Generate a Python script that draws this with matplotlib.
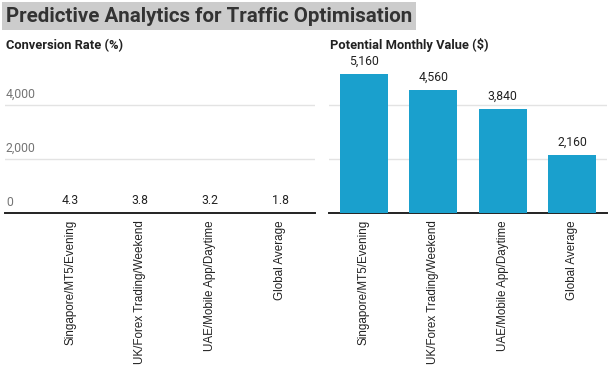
import matplotlib
matplotlib.use("Agg")
import matplotlib.pyplot as plt
from matplotlib.transforms import blended_transform_factory, ScaledTranslation

categories = ["Singapore/MT5/Evening", "UK/Forex Trading/Weekend", "UAE/Mobile App/Daytime", "Global Average"]
conversion_rate = [4.3, 3.8, 3.2, 1.8]
monthly_value = [5160, 4560, 3840, 2160]
conversion_labels = ["4.3", "3.8", "3.2", "1.8"]
value_labels = ["5,160", "4,560", "3,840", "2,160"]
y_ticks = [0, 2000, 4000]
y_tick_labels = ["0", "2,000", "4,000"]

title = "Predictive Analytics for Traffic Optimisation"
left_title = "Conversion Rate (%)"
right_title = "Potential Monthly Value ($)"

BAR = "#1aa0cd"
W, H = 613, 367
fig = plt.figure(figsize=(W / 100, H / 100), dpi=100)

def px_axes(x0, x1, y0, y1):
    return fig.add_axes([x0 / W, 1 - y1 / H, (x1 - x0) / W, (y1 - y0) / H])

ax1 = px_axes(5, 315, 55, 213)
ax2 = px_axes(329, 607, 55, 213)

YMAX = 5850
for ax, vals, labs in ((ax1, conversion_rate, conversion_labels), (ax2, monthly_value, value_labels)):
    x = list(range(len(categories)))
    ax.bar(x, vals, width=0.69, color=BAR, zorder=3)
    ax.set_ylim(0, YMAX)
    for xi, v, lab in zip(x, vals, labs):
        ax.annotate(lab, (xi, v), xytext=(0, 4.5), textcoords="offset points",
                    ha="center", va="bottom", fontsize=8.8, family="Roboto", color="#222222")
    ax.set_yticks([t for t in y_ticks if t > 0])
    ax.yaxis.grid(True, color="#e3e3e3", linewidth=1.0, zorder=0)
    ax.tick_params(axis="y", length=0, labelleft=False)
    ax.set_xticks(x)
    ax.set_xticklabels(categories, rotation=90, fontsize=8.4, family="Liberation Sans", color="#222222")
    ax.tick_params(axis="x", length=0, pad=5)
    for s in ("top", "right", "left"):
        ax.spines[s].set_visible(False)
    ax.spines["bottom"].set_color("#222222")
    ax.spines["bottom"].set_linewidth(1.4)
    ax.set_facecolor("none")

ax1.set_xlim(-0.93, 3.5)
ax2.set_xlim(-0.5, 3.5)

trans = blended_transform_factory(ax1.transAxes, ax1.transData)
for t, lab in zip(y_ticks, y_tick_labels):
    ax1.text(0.003, t, lab, transform=trans + ScaledTranslation(0, 4 / 100, fig.dpi_scale_trans),
             ha="left", va="bottom", fontsize=8.8, family="Roboto", color="#757575")

fig.text(6 / W, 1 - 21.5 / H, title, fontsize=14.8, fontweight="bold", family="Roboto",
         color="#333333", ha="left", va="baseline",
         bbox=dict(facecolor="#cccccc", edgecolor="none", pad=3))
fig.text(6 / W, 1 - 49.5 / H, left_title, fontsize=9.3, fontweight="bold", family="Roboto",
         color="#222222", ha="left", va="baseline")
fig.text(330 / W, 1 - 49.5 / H, right_title, fontsize=9.3, fontweight="bold", family="Roboto",
         color="#222222", ha="left", va="baseline")

fig.savefig("out.png", dpi=100)
